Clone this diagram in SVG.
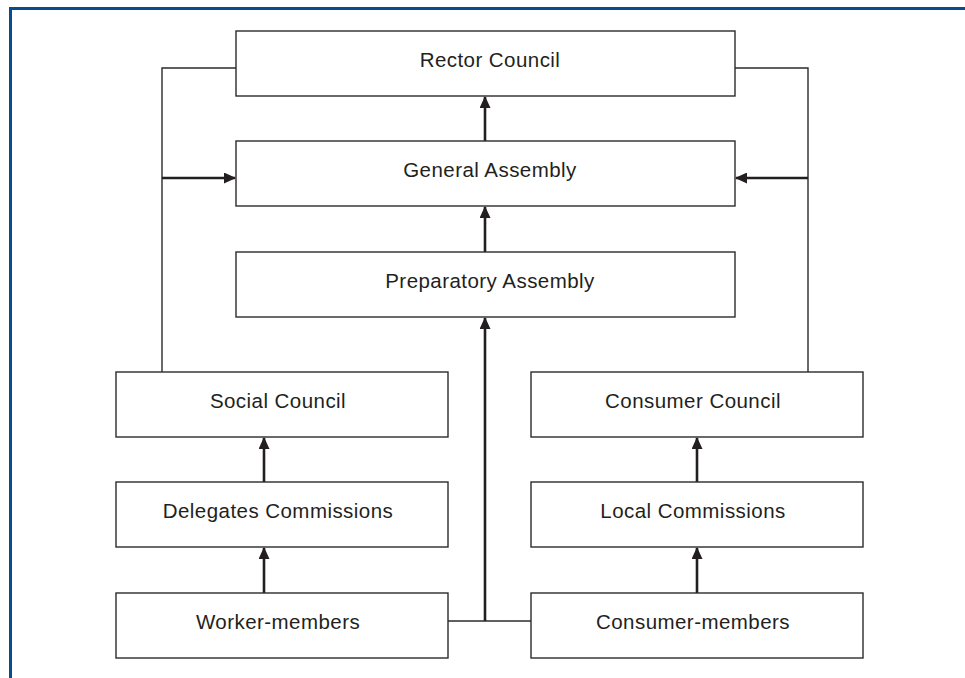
<svg xmlns="http://www.w3.org/2000/svg" width="965" height="678" viewBox="0 0 965 678">
<style>
.box{fill:#fff;stroke:#2b2b2b;stroke-width:1.4}
.lbl{font-family:"Liberation Sans",Arial,sans-serif;font-size:20.5px;letter-spacing:0.45px;fill:#231f20;text-anchor:middle;dominant-baseline:central}
.ln{fill:none;stroke:#2b2b2b;stroke-width:1.4}
.ar{fill:none;stroke:#231f20;stroke-width:2.6;marker-end:url(#ah)}
</style>
<defs>
<marker id="ah" markerWidth="12" markerHeight="11" refX="11" refY="5.5" orient="auto" markerUnits="userSpaceOnUse">
<path d="M0,0 L12,5.5 L0,11 Z" fill="#231f20"/>
</marker>
</defs>
<rect x="0" y="0" width="965" height="678" fill="#fff"/>
<path d="M10.5,678 V8.5 H965" fill="none" stroke="#0a4a8f" stroke-width="3"/>
<g id="connectors">
<path class="ln" d="M236,68 H162 V372"/>
<path class="ln" d="M735,68 H808 V372"/>
<path class="ln" d="M448,621 H531"/>
<path class="ar" d="M162,178 H235"/>
<path class="ar" d="M808,178 H736"/>
<path class="ar" d="M485,141 V97"/>
<path class="ar" d="M485,252 V207"/>
<path class="ar" d="M485,621 V318"/>
<path class="ar" d="M264,482 V438"/>
<path class="ar" d="M264,593 V548"/>
<path class="ar" d="M697,482 V438"/>
<path class="ar" d="M697,593 V548"/>
</g>
<g id="rector"><rect class="box" x="236" y="31" width="499" height="65"/><text class="lbl" x="490" y="59">Rector Council</text></g>
<g id="general"><rect class="box" x="236" y="141" width="499" height="65"/><text class="lbl" x="490" y="169">General Assembly</text></g>
<g id="preparatory"><rect class="box" x="236" y="252" width="499" height="65"/><text class="lbl" x="490" y="280">Preparatory Assembly</text></g>
<g id="social"><rect class="box" x="116" y="372" width="332" height="65"/><text class="lbl" x="278" y="400">Social Council</text></g>
<g id="consumer-council"><rect class="box" x="531" y="372" width="332" height="65"/><text class="lbl" x="693" y="400">Consumer Council</text></g>
<g id="delegates"><rect class="box" x="116" y="482" width="332" height="65"/><text class="lbl" x="278" y="510">Delegates Commissions</text></g>
<g id="local"><rect class="box" x="531" y="482" width="332" height="65"/><text class="lbl" x="693" y="510">Local Commissions</text></g>
<g id="worker"><rect class="box" x="116" y="593" width="332" height="65"/><text class="lbl" x="278" y="621">Worker-members</text></g>
<g id="consumer-members"><rect class="box" x="531" y="593" width="332" height="65"/><text class="lbl" x="693" y="621">Consumer-members</text></g>
</svg>
